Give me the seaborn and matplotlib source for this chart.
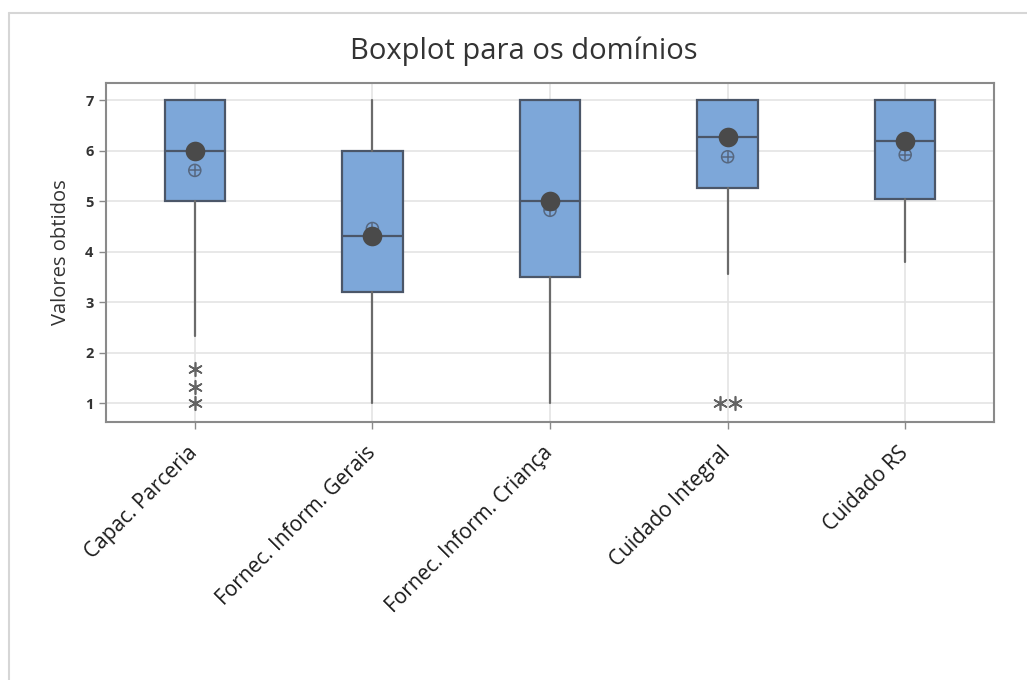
import numpy as np
import pandas as pd
import matplotlib
matplotlib.use("Agg")
import matplotlib.pyplot as plt
import matplotlib.transforms as mtransforms
from matplotlib.lines import Line2D
import seaborn as sns

# Resumo dos domínios (escala 1 a 7)
dominios = ["Capac. Parceria", "Fornec. Inform. Gerais", "Fornec. Inform. Criança",
            "Cuidado Integral", "Cuidado RS"]
bigode_inf = [2.33, 1.0, 1.0, 3.55, 3.80]
q1 = [5.00, 3.20, 3.50, 5.26, 5.05]
mediana = [6.00, 4.32, 5.00, 6.27, 6.20]
q3 = [7.00, 6.00, 7.00, 7.00, 7.00]
bigode_sup = [7.00, 7.00, 7.00, 7.00, 7.00]
media = [5.61, 4.46, 4.82, 5.88, 5.92]

# Valores atípicos
outlier_dominio = ["Capac. Parceria", "Capac. Parceria", "Capac. Parceria",
                   "Cuidado Integral", "Cuidado Integral"]
outlier_valor = [1.67, 1.33, 1.00, 1.00, 1.00]

sns.set_theme(style="white")
plt.rcParams["font.family"] = ["Open Sans", "DejaVu Sans"]

W, H = 1027, 680
fig = plt.figure(figsize=(W / 100, H / 100), dpi=100)
ax = fig.add_axes([106 / W, 1 - 422 / H, (994 - 106) / W, (422 - 83) / H])

BOX_FILL = "#7da7d9"
BOX_EDGE = "#4b5668"
WHISK = "#6b6b6b"
DOT = "#4a4a4a"

pos = np.arange(len(dominios))
stats = [dict(label=d, whislo=wl, q1=a, med=m, q3=b, whishi=wh, fliers=[])
         for d, wl, a, m, b, wh in zip(dominios, bigode_inf, q1, mediana, q3, bigode_sup)]
ax.bxp(stats, positions=pos, widths=0.34, patch_artist=True, showcaps=False,
       showfliers=False, zorder=3,
       boxprops=dict(facecolor=BOX_FILL, edgecolor=BOX_EDGE, linewidth=1.6),
       medianprops=dict(color=BOX_EDGE, linewidth=1.6),
       whiskerprops=dict(color=WHISK, linewidth=1.6))

resumo = pd.DataFrame({"pos": pos, "mediana": mediana, "media": media})

# Símbolo da mediana
sns.scatterplot(data=resumo, x="pos", y="mediana", ax=ax, s=200, color=DOT,
                edgecolor=DOT, linewidth=0, zorder=5, legend=False)
# Símbolo da média (círculo com cruz)
sns.scatterplot(data=resumo, x="pos", y="media", ax=ax, s=75, marker="o",
                facecolor="none", edgecolor="#56677f", linewidth=1.1, zorder=4,
                legend=False)
sns.scatterplot(data=resumo, x="pos", y="media", ax=ax, s=75, marker="+",
                color="#56677f", linewidth=1.1, zorder=4, legend=False)

# Valores atípicos, com empates lado a lado
out = pd.DataFrame({"dominio": outlier_dominio, "valor": outlier_valor})
out["pos"] = out["dominio"].map({d: i for i, d in enumerate(dominios)}).astype(float)
grp = out.groupby(["dominio", "valor"])
out["k"] = grp.cumcount()
out["n"] = grp["valor"].transform("size")
out["x"] = out["pos"] + (out["k"] - (out["n"] - 1) / 2) * 0.085
sns.scatterplot(data=out, x="x", y="valor", ax=ax, marker=(6, 2, 0), s=95,
                color="#636363", edgecolor="#636363", linewidth=1.2, zorder=4,
                legend=False)

ax.set_xlim(-0.5, len(dominios) - 0.5)
ax.set_ylim(0.63, 7.34)
ax.set_yticks(range(1, 8))
ax.set_xticks(pos)
ax.set_xticklabels(dominios, rotation=45, ha="right", va="center",
                   rotation_mode="anchor", fontsize=15, color="#1a1a1a")
shift = mtransforms.ScaledTranslation(10 / 100, 0, fig.dpi_scale_trans)
for t in ax.get_xticklabels():
    t.set_transform(t.get_transform() + shift)
for t in ax.get_yticklabels():
    t.set_fontsize(10.5)
    t.set_fontweight("bold")
    t.set_color("#333333")

ax.grid(True, color="#e4e4e4", linewidth=1.2, zorder=0)
ax.set_axisbelow(True)
for sp in ax.spines.values():
    sp.set_color("#8a8a8a")
    sp.set_linewidth(1.5)
ax.tick_params(axis="both", which="both", length=5, width=1.0, color="#8a8a8a",
               left=True, bottom=True)
ax.tick_params(axis="x", pad=15)
ax.tick_params(axis="y", pad=4)

ax.set_xlabel("")
ax.set_ylabel("Valores obtidos", fontsize=14.5, color="#333333", labelpad=10)

fig.text(524 / W, 1 - 51 / H, "Boxplot para os domínios", ha="center", va="center",
         fontsize=21, color="#333333")

# Moldura externa
fig.add_artist(Line2D([9 / W, 1], [1 - 13 / H, 1 - 13 / H], transform=fig.transFigure,
                      color="#d6d6d6", linewidth=1.5))
fig.add_artist(Line2D([9 / W, 9 / W], [0, 1 - 13 / H], transform=fig.transFigure,
                      color="#d6d6d6", linewidth=1.5))

fig.savefig("out.png", dpi=100, facecolor="white")
